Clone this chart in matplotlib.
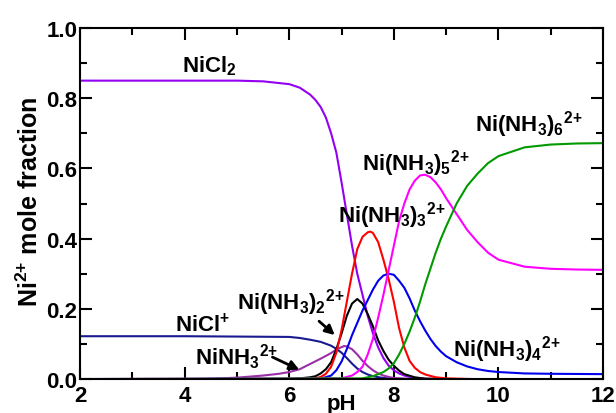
import matplotlib
matplotlib.use("Agg")
import matplotlib.pyplot as plt
from matplotlib.ticker import MultipleLocator, FormatStrFormatter

plt.rcParams['font.family'] = ['Liberation Sans', 'DejaVu Sans']
plt.rcParams['font.weight'] = 'bold'
plt.rcParams['mathtext.fontset'] = 'custom'
plt.rcParams['mathtext.rm'] = 'Liberation Sans:bold'
plt.rcParams['mathtext.bf'] = 'Liberation Sans:bold'
plt.rcParams['mathtext.default'] = 'bf'

# valores (pH, fraccion molar)
ph_nicl2 = [2, 3, 4, 5, 5.5, 6.0, 6.2, 6.4, 6.5, 6.6, 6.7, 6.8, 6.9, 7.0, 7.1, 7.2, 7.3,
            7.4, 7.5, 7.6, 7.7, 7.8, 7.9, 8.0, 8.1, 8.2, 8.3, 8.4, 8.6, 9, 12]
y_nicl2 = [0.85, 0.85, 0.85, 0.85, 0.848, 0.84, 0.83, 0.81, 0.795, 0.775, 0.745, 0.70,
           0.645, 0.56, 0.47, 0.38, 0.30, 0.24, 0.18, 0.13, 0.09, 0.06, 0.038, 0.025,
           0.016, 0.01, 0.006, 0.003, 0.001, 0, 0]

ph_nicl = [2, 4, 6.0, 6.2, 6.4, 6.6, 6.8, 6.9, 7.0, 7.1, 7.2, 7.3, 7.4, 7.5, 7.6, 7.8,
           8.0, 8.5, 12]
y_nicl = [0.122, 0.122, 0.12, 0.117, 0.112, 0.106, 0.095, 0.086, 0.075, 0.06, 0.044,
          0.03, 0.02, 0.013, 0.008, 0.003, 0.001, 0, 0]

ph_ninh3 = [2, 4, 4.5, 5, 5.5, 5.8, 6.0, 6.2, 6.4, 6.6, 6.8, 6.9, 7.0, 7.05, 7.1, 7.2,
            7.3, 7.4, 7.5, 7.6, 7.7, 7.8, 7.9, 8.0, 8.2, 8.5, 12]
y_ninh3 = [0, 0, 0.001, 0.004, 0.01, 0.015, 0.02, 0.028, 0.043, 0.058, 0.074, 0.084,
           0.091, 0.094, 0.093, 0.085, 0.07, 0.052, 0.037, 0.025, 0.016, 0.01, 0.006,
           0.003, 0.001, 0, 0]

ph_n2 = [2, 6.0, 6.2, 6.4, 6.5, 6.6, 6.7, 6.8, 6.9, 7.0, 7.1, 7.2, 7.3, 7.4, 7.5, 7.6,
         7.7, 7.8, 7.9, 8.0, 8.1, 8.2, 8.4, 8.6, 9, 12]
y_n2 = [0, 0, 0.002, 0.005, 0.008, 0.016, 0.028, 0.048, 0.085, 0.13, 0.18, 0.215, 0.228,
        0.215, 0.185, 0.15, 0.11, 0.08, 0.055, 0.038, 0.024, 0.014, 0.005, 0.001, 0, 0]

ph_n3 = [2, 6.4, 6.5, 6.6, 6.7, 6.8, 6.9, 7.0, 7.1, 7.2, 7.3, 7.4, 7.5, 7.55, 7.6, 7.7,
         7.8, 7.9, 8.0, 8.1, 8.2, 8.3, 8.4, 8.5, 8.6, 8.8, 9.0, 9.5, 12]
y_n3 = [0, 0, 0.002, 0.006, 0.015, 0.035, 0.075, 0.14, 0.22, 0.30, 0.37, 0.405, 0.418,
        0.42, 0.416, 0.39, 0.34, 0.285, 0.22, 0.145, 0.09, 0.052, 0.032, 0.02, 0.013,
        0.005, 0.002, 0, 0]

ph_n4 = [2, 6.6, 6.8, 6.9, 7.0, 7.1, 7.2, 7.3, 7.4, 7.5, 7.6, 7.7, 7.8, 7.9, 8.0, 8.1,
         8.2, 8.3, 8.4, 8.5, 8.6, 8.7, 8.8, 8.9, 9.0, 9.2, 9.4, 9.6, 9.8, 10, 10.5, 11, 12]
y_n4 = [0, 0.001, 0.01, 0.025, 0.05, 0.085, 0.125, 0.16, 0.195, 0.225, 0.255, 0.28,
        0.295, 0.30, 0.297, 0.28, 0.26, 0.23, 0.195, 0.165, 0.138, 0.114, 0.094, 0.078,
        0.065, 0.048, 0.036, 0.028, 0.023, 0.02, 0.016, 0.015, 0.014]

ph_n5 = [2, 7.0, 7.2, 7.3, 7.4, 7.5, 7.6, 7.7, 7.8, 7.9, 8.0, 8.1, 8.2, 8.3, 8.4, 8.5,
         8.6, 8.7, 8.8, 8.9, 9.0, 9.2, 9.4, 9.6, 9.8, 10, 10.5, 11, 11.5, 12]
y_n5 = [0, 0.002, 0.01, 0.02, 0.035, 0.07, 0.115, 0.175, 0.24, 0.31, 0.38, 0.45, 0.50,
        0.54, 0.565, 0.58, 0.582, 0.575, 0.56, 0.54, 0.515, 0.47, 0.425, 0.39, 0.36,
        0.34, 0.32, 0.314, 0.312, 0.311]

ph_n6 = [2, 7.4, 7.6, 7.8, 7.9, 8.0, 8.1, 8.2, 8.3, 8.4, 8.5, 8.6, 8.7, 8.8, 8.9, 9.0,
         9.2, 9.4, 9.6, 9.8, 10, 10.5, 11, 11.5, 12]
y_n6 = [0, 0.002, 0.008, 0.02, 0.03, 0.045, 0.07, 0.10, 0.135, 0.175, 0.22, 0.27, 0.315,
        0.36, 0.40, 0.435, 0.50, 0.55, 0.585, 0.615, 0.635, 0.66, 0.668, 0.671, 0.672]

fig = plt.figure(figsize=(6.16, 4.14), dpi=100)
ax = fig.add_axes([0.13, 0.082, 0.849, 0.848])

lw = 1.5
ax.plot(ph_nicl2, y_nicl2, color='#9400f0', lw=lw)
ax.plot(ph_nicl, y_nicl, color='#1a1a90', lw=lw)
ax.plot(ph_ninh3, y_ninh3, color='#9a2fa8', lw=lw)
ax.plot(ph_n2, y_n2, color='black', lw=lw)
ax.plot(ph_n3, y_n3, color='#ff0000', lw=lw)
ax.plot(ph_n4, y_n4, color='#0000ee', lw=lw)
ax.plot(ph_n5, y_n5, color='#ff00ff', lw=lw)
ax.plot(ph_n6, y_n6, color='#009a00', lw=lw)

ax.set_xlim(2, 12)
ax.set_ylim(0, 1.0)
ax.xaxis.set_major_locator(MultipleLocator(2))
ax.xaxis.set_minor_locator(MultipleLocator(1))
ax.yaxis.set_major_locator(MultipleLocator(0.2))
ax.yaxis.set_minor_locator(MultipleLocator(0.1))
ax.yaxis.set_major_formatter(FormatStrFormatter('%.1f'))
ax.tick_params(which='both', direction='in', top=True, right=True, width=1.5)
ax.tick_params(which='major', length=8.5, labelsize=16, pad=2)
ax.tick_params(axis='x', which='major', pad=4)
ax.tick_params(which='minor', length=5)
for s in ax.spines.values():
    s.set_linewidth(1.5)

ax.set_xlabel('pH', fontsize=16, fontweight='bold', labelpad=-9)
ax.set_ylabel('Ni$^{2{+}}$ mole fraction', fontsize=18, fontweight='bold')
ax.yaxis.set_label_coords(-0.07, 0.507)

fs = 16
carga = r'$^{2{+}}$'
ax.text(3.95, 0.877, 'NiCl$_2$', fontsize=fs)
ax.text(9.55, 0.707, 'Ni(NH$_3$)$_6$' + carga, fontsize=fs)
ax.text(7.39, 0.598, 'Ni(NH$_3$)$_5$' + carga, fontsize=fs)
ax.text(6.93, 0.45, 'Ni(NH$_3$)$_3$' + carga, fontsize=fs)
ax.text(5.0, 0.20, 'Ni(NH$_3$)$_2$' + carga, fontsize=fs)
ax.text(3.82, 0.137, 'NiCl$^{{+}}$', fontsize=fs)
ax.text(4.2, 0.043, 'NiNH$_3$' + carga, fontsize=fs)
ax.text(9.13, 0.066, 'Ni(NH$_3$)$_4$' + carga, fontsize=fs)

flecha = dict(arrowstyle='-|>', color='black', lw=2, mutation_scale=14)
ax.annotate('', xy=(6.24, 0.023), xytext=(5.63, 0.066), arrowprops=flecha)
ax.annotate('', xy=(6.91, 0.12), xytext=(6.53, 0.17), arrowprops=flecha)

fig.savefig('out.png', dpi=100)
